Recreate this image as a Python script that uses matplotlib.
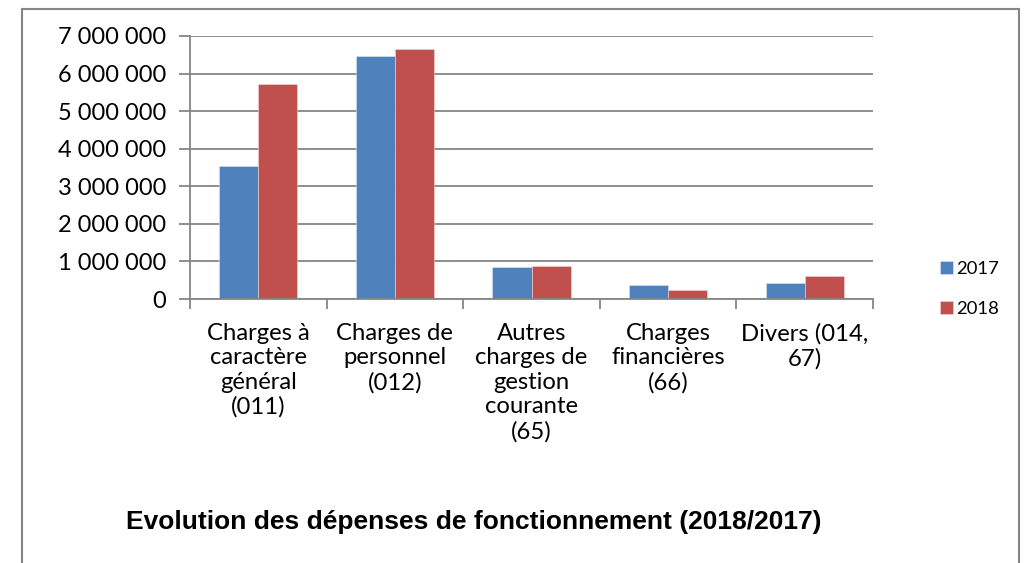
import matplotlib.pyplot as plt
import matplotlib.ticker as mticker
from matplotlib.patches import Rectangle
import numpy as np

CATEGORIES = [
    "Charges à\ncaractère\ngénéral\n(011)",
    "Charges de\npersonnel\n(012)",
    "Autres\ncharges de\ngestion\ncourante\n(65)",
    "Charges\nfinancières\n(66)",
    "Divers (014,\n67)",
]
VALUES_2017 = [3530000, 6480000, 860000, 360000, 430000]
VALUES_2018 = [5720000, 6650000, 890000, 235000, 625000]
SERIES_LABELS = ["2017", "2018"]
TITLE = "Evolution des dépenses de fonctionnement (2018/2017)"

BLUE = "#4F81BD"
RED = "#C0504D"
GRID = "#868686"
FONT = ["Lato", "DejaVu Sans"]


def fmt_space(v, pos):
    return f"{int(v):,}".replace(",", " ")


def main():
    fig = plt.figure(figsize=(10.26, 5.63), dpi=100)
    ax = fig.add_axes([190 / 1026, 1 - 299 / 563, (873 - 190) / 1026, (299 - 36) / 563])

    x = np.arange(len(CATEGORIES))
    w = 1 / 3.5
    ax.bar(x - w / 2, VALUES_2017, width=w, color=BLUE, edgecolor="#dfe7f2",
           linewidth=0.4, label=SERIES_LABELS[0], zorder=3)
    ax.bar(x + w / 2, VALUES_2018, width=w, color=RED, edgecolor="#f0d8d8",
           linewidth=0.4, label=SERIES_LABELS[1], zorder=3)

    ax.set_xlim(-0.5, len(CATEGORIES) - 0.5)
    ax.set_ylim(0, 7000000)
    ax.yaxis.set_major_locator(mticker.MultipleLocator(1000000))
    ax.yaxis.set_major_formatter(mticker.FuncFormatter(fmt_space))
    ax.grid(axis="y", color=GRID, linewidth=1.3, zorder=0)

    ax.set_xticks(x)
    ax.set_xticklabels(CATEGORIES, fontfamily=FONT, fontsize=17.2, linespacing=1.21)
    ax.set_xticks(np.arange(len(CATEGORIES) + 1) - 0.5, minor=True)
    ax.tick_params(axis="x", which="major", length=0, pad=17)
    ax.tick_params(axis="x", which="minor", length=7, width=1.3, color=GRID)
    ax.tick_params(axis="y", length=8, width=1.3, color=GRID, pad=9)
    for lab in ax.get_yticklabels():
        lab.set_fontfamily(FONT)
        lab.set_fontsize(17)

    for side in ["top", "right"]:
        ax.spines[side].set_visible(False)
    for side in ["left", "bottom"]:
        ax.spines[side].set_color(GRID)
        ax.spines[side].set_linewidth(1.3)
        ax.spines[side].set_zorder(4)

    fig.text(474 / 1026, 1 - 522 / 563, TITLE, ha="center", va="center",
             fontfamily="Liberation Sans", fontweight="bold", fontsize=19)

    ax.legend(loc="center left", bbox_to_anchor=(940 / 1026, 1 - 289 / 563),
              bbox_transform=fig.transFigure, frameon=False,
              prop={"family": FONT, "size": 13.3}, handlelength=0.7,
              handleheight=0.7, handletextpad=0.2, labelspacing=1.3,
              borderpad=0, borderaxespad=0)

    fig.patches.append(Rectangle((22 / 1026, -0.1), (1019 - 22) / 1026, 1.1 - 9 / 563,
                                 transform=fig.transFigure, fill=False,
                                 edgecolor=GRID, linewidth=1.5))

    fig.savefig("out.png", dpi=100)


if __name__ == "__main__":
    main()
